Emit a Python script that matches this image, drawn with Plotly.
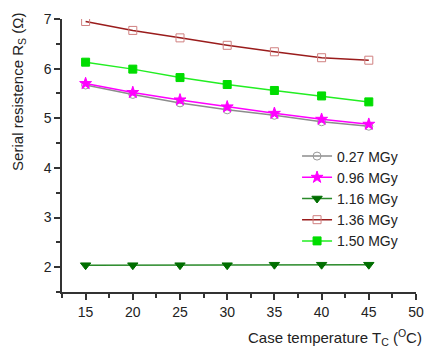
import plotly.graph_objects as go

temps = [15, 20, 25, 30, 35, 40, 45]
labels = ["0.27 MGy", "0.96 MGy", "1.16 MGy", "1.36 MGy", "1.50 MGy"]
rs_027 = [5.67, 5.48, 5.31, 5.17, 5.06, 4.93, 4.84]
rs_096 = [5.70, 5.52, 5.37, 5.23, 5.10, 4.98, 4.88]
rs_116 = [2.04, 2.04, 2.04, 2.04, 2.05, 2.05, 2.05]
rs_136 = [6.95, 6.77, 6.62, 6.47, 6.34, 6.22, 6.17]
rs_150 = [6.13, 5.99, 5.82, 5.68, 5.56, 5.45, 5.33]

series = [
    (labels[0], rs_027, "#8c8c8c", "circle-open", "#999999", 8),
    (labels[1], rs_096, "#ff00ff", "star", "#ff00ff", 9),
    (labels[2], rs_116, "#2a8a2a", "triangle-down", "#006e00", 9),
    (labels[3], rs_136, "#9a1c1c", "square-open", "#d08080", 8),
    (labels[4], rs_150, "#22ee22", "square", "#00dd00", 8),
]

fig = go.Figure()
for name, ys, lc, sym, mc, ms in series:
    fig.add_trace(go.Scatter(
        x=temps, y=ys, name=name, mode="lines+markers",
        line=dict(color=lc, width=1.5),
        marker=dict(symbol=sym, color=mc, size=ms, line=dict(color=mc, width=1)),
    ))

axis_common = dict(
    showline=True, linecolor="#333", linewidth=1.5, ticks="outside",
    tickcolor="#333", tickwidth=1.5, ticklen=6, showgrid=False, zeroline=False,
    tickfont=dict(family="Liberation Sans, Arial", size=14, color="#222"),
    minor=dict(ticks="outside", ticklen=4, tickcolor="#333", tickwidth=1.5),
)
fig.update_xaxes(range=[12.5, 50], tickvals=[15, 20, 25, 30, 35, 40, 45, 50],
                 minor_dtick=2.5, **axis_common)
fig.update_yaxes(range=[1.5, 7], tickvals=[2, 3, 4, 5, 6, 7],
                 minor_dtick=0.5, **axis_common)

fig.add_annotation(text="Case temperature T<sub>C</sub> (<sup>O</sup>C)",
                   xref="paper", yref="paper", x=1.022, y=-0.165, xanchor="right", yanchor="middle",
                   showarrow=False, font=dict(family="Liberation Sans, Arial", size=15, color="#222"))
fig.add_annotation(text="Serial resistence R<sub>S</sub> (Ω)",
                   xref="paper", yref="paper", x=-0.1215, y=0.733, xanchor="center", yanchor="middle",
                   textangle=-90, showarrow=False,
                   font=dict(family="Liberation Sans, Arial", size=15, color="#222"))

fig.update_layout(
    width=433, height=347, margin=dict(l=62, r=9, t=19, b=55),
    plot_bgcolor="white", paper_bgcolor="white",
    legend=dict(x=0.664, y=0.555, xanchor="left", yanchor="top", bgcolor="rgba(0,0,0,0)",
                font=dict(family="Liberation Sans, Arial", size=14, color="#222"),
                tracegroupgap=0, itemwidth=30),
    showlegend=True,
)
fig.write_html("out.html")
